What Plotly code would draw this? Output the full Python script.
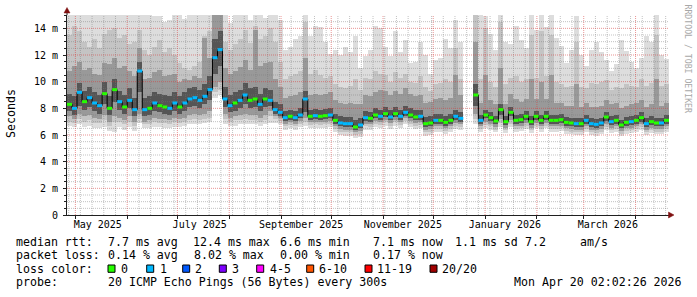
import plotly.graph_objects as go
import pandas as pd

# ---------------- data ----------------
START = pd.Timestamp("2025-04-26")
END = START + pd.Timedelta(days=360)
BIN_DAYS = 3
N_BINS = 120

# median rtt per 3-day bin (ms)
med = [8.3, 8.0, 9.2, 8.5, 8.8, 8.4, 8.2, 9.1, 8.0, 9.4,
       8.5, 8.1, 8.6, 7.9, 10.8, 7.9, 8.0, 8.4, 8.2, 8.1,
       8.0, 8.4, 8.1, 8.4, 8.7, 8.8, 8.6, 8.9, 9.4, 11.8,
       12.4, 8.7, 8.2, 8.4, 8.6, 9.0, 8.6, 8.7, 8.3, 8.7,
       8.6, 7.9, 7.7, 7.3, 7.4, 7.3, 7.5, 8.7, 7.4, 7.45,
       7.4, 7.45, 7.5, 7.1, 6.9, 6.85, 6.85, 6.6, 6.75, 7.3,
       7.25, 7.5, 7.4, 7.6, 7.35, 7.6, 7.4, 7.7, 7.5, 7.35,
       7.4, 6.85, 6.9, 7.1, 7.1, 6.95, 7.1, 7.4, 7.25, None,
       None, 9.0, 7.1, 7.5, 7.3, 7.05, 7.9, 7.0, 7.7, 7.1,
       7.15, 7.4, 7.0, 7.4, 7.1, 7.4, 7.1, 7.1, 7.15, 6.95,
       6.9, 6.85, 6.85, 7.1, 6.85, 6.8, 6.9, 7.35, 7.0, 7.1,
       6.75, 6.95, 7.0, 7.1, 7.3, 6.85, 7.0, 6.9, 6.9, 7.1]

# lost pings per bin (0 or 1 of 20)
loss = [0, 1, 1, 0, 1, 1, 1, 0, 0, 0,
        1, 0, 1, 1, 1, 1, 0, 1, 0, 0,
        1, 1, 0, 1, 1, 1, 1, 1, 1, 1,
        1, 1, 1, 0, 1, 1, 0, 0, 1, 0,
        1, 1, 1, 1, 0, 1, 1, 1, 0, 1,
        0, 0, 1, 0, 1, 1, 1, 0, 1, 1,
        0, 0, 1, 0, 1, 0, 1, 1, 0, 0,
        1, 0, 0, 1, 0, 0, 0, 1, 1, 0,
        0, 0, 1, 0, 0, 0, 0, 0, 0, 0,
        0, 0, 0, 0, 0, 0, 0, 0, 0, 0,
        0, 1, 0, 1, 1, 1, 1, 0, 1, 0,
        0, 0, 1, 0, 0, 1, 0, 0, 1, 0]

# smoke: sorted-ping levels per bin (ms), outermost to innermost
p_max = [15, 15, 15, 15, 15, 15, 15, 15, 15, 15,
         15, 15, 15, 15, 15, 15, 15, 14.9, 14.9, 14.5,
         14.6, 15, 15, 14.7, 15, 15, 15, 15, 15, 15,
         15, 15, 14.4, 15, 15, 15, 14.6, 15, 15, 14.8,
         15, 15, 14.6, 12.4, 12.6, 13.2, 13.4, 15, 13.4, 14.2,
         14.1, 13.0, 12.1, 12.4, 12.0, 12.6, 12.2, 13.4, 11.0, 11.9,
         12.4, 14.2, 14.0, 12.6, 11.9, 13.8, 12.2, 13.1, 11.4, 11.5,
         13.0, 12.0, 10.6, 11.6, 11.8, 13.2, 12.5, 14.6, 13.0, None,
         None, 15, 15, 14.9, 13.6, 12.4, 15, 13.0, 12.8, 14.2,
         13.1, 12.5, 15, 13.9, 15, 14.1, 15, 13.3, 12.7, 11.4,
         12.4, 14.9, 12.0, 11.2, 12.4, 13.0, 12.2, 11.6, 10.8, 11.3,
         13.1, 12.3, 11.5, 11.0, 11.8, 13.4, 13.0, 15, 12.0, 11.7]

p_h2 = [13.5, 14.2, 13.8, 13.0, 12.6, 13.2, 12.5, 13.6, 13.9, 14.0,
        13.3, 13.5, 12.8, 13.0, 13.9, 12.4, 12.0, 12.6, 13.1, 12.2,
        12.5, 12.0, 11.4, 11.0, 10.9, 11.2, 11.5, 13.4, 13.8, 15,
        15, 13.0, 12.4, 12.8, 13.2, 13.9, 12.9, 14.2, 13.2, 13.4,
        14.0, 13.0, 11.5, 10.2, 10.4, 10.6, 10.8, 14.5, 10.6, 10.9,
        10.5, 10.3, 10.4, 9.8, 9.6, 9.5, 9.7, 10.2, 9.4, 10.3,
        10.2, 10.8, 10.6, 10.5, 10.0, 10.7, 10.3, 10.6, 10.0, 9.9,
        10.4, 9.6, 9.3, 9.8, 9.9, 10.2, 10.0, 12.5, 10.2, None,
        None, 15, 10.2, 14.0, 10.0, 9.6, 14.5, 9.8, 10.3, 10.4,
        10.0, 10.2, 13.5, 10.3, 13.8, 10.4, 13.5, 10.0, 9.8, 9.6,
        9.7, 13.0, 9.6, 9.5, 9.9, 9.8, 10.0, 10.1, 9.4, 9.6,
        9.5, 9.8, 9.7, 9.6, 10.2, 9.7, 9.9, 13.5, 9.7, 9.8]

p_h3 = [10.8, 11.2, 11.5, 10.9, 11.0, 10.6, 10.5, 11.4, 11.3, 11.8,
        11.0, 11.2, 10.8, 10.4, 12.5, 10.2, 10.3, 10.7, 10.9, 10.4,
        10.5, 10.6, 10.0, 10.2, 10.1, 10.4, 10.3, 13.3, 11.8, 15,
        15, 11.0, 10.6, 10.8, 11.1, 11.6, 10.9, 13.9, 11.2, 11.4,
        11.5, 10.2, 9.6, 8.8, 8.9, 9.0, 9.2, 11.8, 9.0, 9.1,
        9.0, 9.1, 9.2, 8.6, 8.4, 8.3, 8.4, 8.3, 8.3, 9.0,
        8.9, 9.2, 9.4, 9.3, 9.0, 9.3, 9.1, 9.5, 9.1, 8.9,
        9.0, 8.4, 8.5, 8.7, 8.8, 8.6, 8.8, 10.5, 9.0, None,
        None, 13.0, 8.4, 10.5, 8.6, 8.3, 11.0, 8.3, 9.1, 8.7,
        8.5, 8.7, 10.2, 8.7, 10.0, 8.7, 10.5, 8.4, 8.4, 8.2,
        8.2, 9.8, 8.1, 8.4, 8.1, 8.1, 8.2, 8.6, 8.3, 8.4,
        8.0, 8.2, 8.3, 8.4, 8.6, 8.1, 8.3, 10.2, 8.2, 8.4]

p_h4 = [9.1, 8.9, 9.9, 9.3, 9.6, 9.2, 9.0, 10.0, 8.9, 10.2,
        9.3, 9.0, 9.5, 8.8, 11.5, 8.8, 8.9, 9.2, 9.1, 9.0,
        8.9, 9.2, 8.9, 9.2, 9.5, 9.6, 9.4, 9.8, 10.4, 13.2,
        13.8, 9.6, 9.0, 9.2, 9.4, 9.9, 9.5, 9.6, 9.1, 9.5,
        9.4, 8.5, 8.3, 7.8, 7.9, 7.8, 8.0, 9.3, 7.9, 7.95,
        7.9, 7.95, 8.0, 7.6, 7.4, 7.35, 7.35, 7.1, 7.25, 7.8,
        7.75, 8.0, 7.9, 8.1, 7.85, 8.1, 7.9, 8.2, 8.0, 7.85,
        7.9, 7.35, 7.4, 7.6, 7.6, 7.45, 7.6, 7.9, 7.75, None,
        None, 9.8, 7.5, 7.9, 7.7, 7.45, 8.3, 7.4, 8.1, 7.5,
        7.55, 7.8, 7.4, 7.8, 7.5, 7.8, 7.5, 7.5, 7.55, 7.35,
        7.3, 7.25, 7.25, 7.5, 7.25, 7.2, 7.3, 7.75, 7.4, 7.5,
        7.15, 7.35, 7.4, 7.5, 7.7, 7.25, 7.4, 7.3, 7.3, 7.5]

p_l4 = [7.8, 7.5, 8.2, 7.9, 8.1, 7.8, 7.6, 8.3, 7.5, 8.5,
        7.9, 7.6, 8.0, 7.4, 9.2, 7.4, 7.5, 7.8, 7.7, 7.6,
        7.5, 7.8, 7.6, 7.8, 8.1, 8.2, 8.0, 8.3, 8.6, 10.6,
        11.2, 8.1, 7.7, 7.8, 8.0, 8.3, 8.0, 8.1, 7.8, 8.1,
        8.2, 7.6, 7.45, 7.05, 7.15, 7.05, 7.25, 7.7, 7.15, 7.2,
        7.15, 7.2, 7.25, 6.85, 6.65, 6.6, 6.6, 6.4, 6.5, 7.05,
        7.0, 7.25, 7.15, 7.35, 7.1, 7.35, 7.15, 7.45, 7.25, 7.1,
        7.15, 6.6, 6.65, 6.85, 6.85, 6.7, 6.85, 7.1, 7.0, None,
        None, 8.2, 6.85, 7.25, 7.05, 6.8, 7.5, 6.75, 7.4, 6.85,
        6.9, 7.15, 6.75, 7.15, 6.85, 7.15, 6.85, 6.85, 6.9, 6.7,
        6.65, 6.6, 6.6, 6.85, 6.6, 6.55, 6.65, 7.05, 6.75, 6.85,
        6.5, 6.7, 6.75, 6.85, 7.0, 6.6, 6.75, 6.65, 6.65, 6.85]

p_l3 = [7.4, 7.2, 7.6, 7.4, 7.5, 7.3, 7.2, 7.5, 7.0, 7.4,
        7.3, 7.1, 7.4, 7.0, 7.6, 7.0, 7.1, 7.3, 7.2, 7.2,
        7.1, 7.3, 7.2, 7.3, 7.5, 7.6, 7.5, 7.6, 7.8, 9.6,
        10.0, 7.6, 7.3, 7.4, 7.5, 7.6, 7.5, 7.5, 7.3, 7.5,
        7.8, 7.4, 7.25, 6.85, 6.95, 6.85, 7.05, 7.3, 6.95, 7.0,
        6.95, 7.0, 7.05, 6.65, 6.45, 6.4, 6.4, 6.2, 6.3, 6.85,
        6.8, 7.05, 6.95, 7.15, 6.9, 7.15, 6.95, 7.25, 7.05, 6.9,
        6.95, 6.4, 6.45, 6.65, 6.65, 6.5, 6.65, 6.9, 6.8, None,
        None, 7.6, 6.65, 7.0, 6.85, 6.6, 7.2, 6.55, 7.1, 6.65,
        6.7, 6.9, 6.55, 6.9, 6.65, 6.9, 6.65, 6.65, 6.7, 6.5,
        6.45, 6.4, 6.4, 6.65, 6.4, 6.35, 6.45, 6.8, 6.55, 6.65,
        6.3, 6.5, 6.55, 6.65, 6.8, 6.4, 6.55, 6.45, 6.45, 6.65]

p_l2 = [7.0, 6.9, 7.2, 7.0, 7.1, 6.9, 6.9, 7.1, 6.7, 7.0,
        7.0, 6.8, 7.0, 6.7, 7.2, 6.8, 6.8, 7.0, 6.9, 6.9,
        6.8, 7.0, 6.9, 7.0, 7.1, 7.2, 7.1, 7.2, 7.3, 9.2,
        9.4, 7.2, 7.0, 7.1, 7.1, 7.2, 7.1, 7.1, 7.0, 7.1,
        7.4, 7.2, 7.05, 6.65, 6.75, 6.65, 6.85, 7.0, 6.75, 6.8,
        6.75, 6.8, 6.85, 6.45, 6.25, 6.2, 6.2, 6.0, 6.1, 6.65,
        6.6, 6.85, 6.75, 6.95, 6.7, 6.95, 6.75, 7.05, 6.85, 6.7,
        6.75, 6.2, 6.25, 6.45, 6.45, 6.3, 6.45, 6.7, 6.6, None,
        None, 7.2, 6.45, 6.75, 6.65, 6.4, 6.9, 6.35, 6.85, 6.45,
        6.5, 6.7, 6.35, 6.7, 6.45, 6.7, 6.45, 6.45, 6.5, 6.3,
        6.25, 6.2, 6.2, 6.45, 6.2, 6.15, 6.25, 6.6, 6.35, 6.45,
        6.1, 6.3, 6.35, 6.45, 6.6, 6.2, 6.35, 6.25, 6.25, 6.45]

p_min = [6.7, 6.6, 6.8, 6.6, 6.7, 6.5, 6.5, 6.6, 6.3, 6.2,
         6.6, 6.4, 6.6, 6.3, 6.9, 6.5, 6.5, 6.6, 6.6, 6.5,
         6.5, 6.6, 6.6, 6.7, 6.8, 6.8, 6.8, 6.9, 7.0, 8.8,
         9.0, 6.8, 6.7, 6.7, 6.8, 6.8, 6.8, 6.8, 6.7, 6.8,
         6.9, 6.9, 6.8, 6.4, 6.5, 6.4, 6.6, 6.7, 6.5, 6.55,
         6.5, 6.55, 6.6, 6.2, 6.0, 5.95, 5.95, 5.8, 5.85, 6.4,
         6.35, 6.6, 6.5, 6.7, 6.45, 6.7, 6.5, 6.8, 6.6, 6.45,
         6.5, 5.95, 6.0, 6.2, 6.2, 6.05, 6.2, 6.45, 6.35, None,
         None, 6.8, 6.25, 6.5, 6.4, 6.2, 6.6, 6.15, 6.6, 6.25,
         6.3, 6.45, 6.15, 6.5, 6.25, 6.5, 6.25, 6.25, 6.3, 6.1,
         6.05, 6.0, 6.0, 6.25, 6.0, 5.95, 6.05, 6.35, 6.15, 6.25,
         5.9, 6.1, 6.15, 6.25, 6.4, 6.0, 6.15, 6.05, 6.05, 6.25]

# axis ticks / labels
x_label_pos = ["2025-05-14 10:00", "2025-07-14 08:40", "2025-09-13 01:30",
               "2025-11-12 19:00", "2026-01-12 21:30", "2026-03-15 10:00"]
x_label_text = ["May 2025", "July 2025", "September 2025",
                "November 2025", "January 2026", "March 2026"]
y_tick_vals = [0, 2, 4, 6, 8, 10, 12, 14]
y_tick_text = ["0", "2 m", "4 m", "6 m", "8 m", "10 m", "12 m", "14 m"]

loss_names = ["0", "1", "2", "3", "4-5", "6-10", "11-19", "20/20"]
loss_colors = ["#26ff00", "#00b8ff", "#0059ff", "#7e00ff",
               "#ff00ff", "#ff5500", "#ff0000", "#a10000"]

legend_rows = [
    ["median rtt:", "7.7 ms avg", "12.4 ms max", "6.6 ms min",
     "7.1 ms now", "1.1 ms sd", "7.2", "am/s"],
    ["packet loss:", "0.14 % avg", "8.02 % max", "0.00 % min", "0.17 % now"],
    ["probe:", "20 ICMP Echo Pings (56 Bytes) every 300s",
     "Mon Apr 20 02:02:26 2026"],
]

# ---------------- layout constants (pixels) ----------------
W, H = 697, 297
PL, PR, PT, PB = 67, 669, 15, 215
FONT = "DejaVu Sans Mono"
LEG_SIZE = 11.6

legend_x = [[16, 107.3, 192.7, 279.3, 372.3, 455, 525, 579.3],
            [16, 107.3, 194, 279.3, 372.3],
            [16, 107.3, 513.3]]
legend_y = [241.7, 255.2, 282.2]
lossrow_y = 268.7
box_x = [108, 146.7, 182.7, 219.3, 256.7, 306.7, 365, 430]
boxlab_x = [120.7, 159.3, 195, 231.7, 269.3, 319, 376.7, 441.7]


def fx(X):
    return (X - PL) / (PR - PL)


def fy(Y):
    return (PB - Y) / (PB - PT)


# ---------------- figure ----------------
t_start = [START + pd.Timedelta(days=BIN_DAYS * i) for i in range(N_BINS)]
t_mid = [START + pd.Timedelta(days=BIN_DAYS * i + BIN_DAYS / 2) for i in range(N_BINS)]
t_edges = t_start + [END]
bin_ms = BIN_DAYS * 86400000

fig = go.Figure()

bands = [(p_min, p_max, "#dddddd"),
         (p_l2, p_h2, "#c4c4c4"),
         (p_l3, p_h3, "#999999"),
         (p_l4, p_h4, "#555555")]
for lo, hi, col in bands:
    base = [a if (a is not None and b is not None) else None for a, b in zip(lo, hi)]
    hgt = [(b - a) if (a is not None and b is not None) else None for a, b in zip(lo, hi)]
    fig.add_trace(go.Bar(x=t_mid, y=hgt, base=base, width=bin_ms,
                         marker=dict(color=col, line=dict(width=0)),
                         hoverinfo="skip"))

# grid (drawn above the smoke, like rrdtool)
month_starts = pd.date_range("2025-05-01", "2026-04-01", freq="MS")
week_lines = [d for d in pd.date_range("2025-04-27", "2026-04-19", freq="W-SUN")
              if d.day != 1]
minor_y = [v / 2 for v in range(1, 30) if v % 4 != 0]
major_y = [v for v in range(2, 15, 2)]


def vlines(xs):
    X, Y = [], []
    for d in xs:
        X += [d, d, None]
        Y += [0, 15, None]
    return X, Y


def hlines(ys):
    X, Y = [], []
    for v in ys:
        X += [START, END, None]
        Y += [v, v, None]
    return X, Y


grid_minor = "rgba(120,120,120,0.45)"
grid_major = "rgba(215,60,60,0.55)"
for xs, ys, col in [(*vlines(week_lines), grid_minor),
                    (*hlines(minor_y), grid_minor),
                    (*vlines(month_starts), grid_major),
                    (*hlines(major_y), grid_major)]:
    fig.add_trace(go.Scatter(x=xs, y=ys, mode="lines",
                             line=dict(color=col, width=1, dash="1px,1px"),
                             hoverinfo="skip"))

# median line
fig.add_trace(go.Scatter(x=t_edges, y=med + [med[-1]], mode="lines",
                         line=dict(color="#000000", width=1, shape="hv"),
                         hoverinfo="skip"))
for cls in sorted(set(loss)):
    X, Y = [], []
    for i in range(N_BINS):
        if med[i] is not None and loss[i] == cls:
            X += [t_edges[i], t_edges[i + 1], None]
            Y += [med[i], med[i], None]
    fig.add_trace(go.Scatter(x=X, y=Y, mode="lines",
                             line=dict(color=loss_colors[cls], width=3),
                             hoverinfo="skip"))

fig.update_layout(
    width=W, height=H,
    margin=dict(l=PL, r=W - PR, t=PT, b=H - PB),
    paper_bgcolor="white", plot_bgcolor="white",
    showlegend=False, barmode="overlay", bargap=0,
    font=dict(family=FONT, size=10, color="black"),
)
fig.update_xaxes(
    type="date", range=[START, END],
    tickmode="array", tickvals=x_label_pos, ticktext=x_label_text,
    ticks="", showgrid=False, zeroline=False,
    showline=True, linecolor="#202020", linewidth=1,
    tickfont=dict(family=FONT, size=10, color="black"),
    minor=dict(tickmode="array", tickvals=list(month_starts), ticks="outside",
               ticklen=3, tickcolor="#202020", showgrid=False),
)
fig.update_yaxes(
    range=[0, 15], tickmode="array", tickvals=y_tick_vals, ticktext=y_tick_text,
    ticks="outside", ticklen=3, tickcolor="#202020",
    showgrid=False, zeroline=False,
    showline=True, linecolor="#202020", linewidth=1,
    tickfont=dict(family=FONT, size=10, color="black"),
    ticklabelstandoff=3,
    minor=dict(dtick=0.5, ticks="outside", ticklen=2, tickcolor="#202020",
               showgrid=False),
)

ann = []


def text_at(txt, X, Y, size=LEG_SIZE, color="black", angle=0, xanchor="left"):
    ann.append(dict(text=txt, x=fx(X), y=fy(Y), xref="paper", yref="paper",
                    xanchor=xanchor, yanchor="middle", showarrow=False,
                    textangle=angle, borderpad=0,
                    font=dict(family=FONT, size=size, color=color)))


for row, xs, Y in zip(legend_rows, legend_x, legend_y):
    for txt, X in zip(row, xs):
        text_at(txt, X - 0.8, Y)
text_at("loss color:", 16 - 0.8, lossrow_y)
for name, X in zip(loss_names, boxlab_x):
    text_at(name, X - 0.8, lossrow_y)

text_at("Seconds", 11, 114, size=11.6, angle=-90, xanchor="center")
text_at("RRDTOOL / TOBI OETIKER", 687.5, 59, size=8.2, color="#a8a8a8",
        angle=90, xanchor="center")

shapes = []
for X, col in zip(box_x, loss_colors):
    shapes.append(dict(type="rect", xref="paper", yref="paper",
                       x0=fx(X), x1=fx(X + 7), y0=fy(272.3), y1=fy(265),
                       fillcolor=col, line=dict(color="black", width=1)))
# axis extensions and arrows
arrow_col = "#7f1010"
shapes.append(dict(type="line", xref="paper", yref="paper",
                   x0=fx(PL), x1=fx(PL), y0=fy(PT), y1=fy(11),
                   line=dict(color="#202020", width=1)))
shapes.append(dict(type="line", xref="paper", yref="paper",
                   x0=fx(PR), x1=fx(671), y0=fy(PB), y1=fy(PB),
                   line=dict(color="#202020", width=1)))
shapes.append(dict(type="path", xref="paper", yref="paper",
                   path="M {} {} L {} {} L {} {} Z".format(
                       fx(64), fy(13), fx(70), fy(13), fx(67), fy(7.5)),
                   fillcolor=arrow_col, line=dict(color=arrow_col, width=0.5)))
shapes.append(dict(type="path", xref="paper", yref="paper",
                   path="M {} {} L {} {} L {} {} Z".format(
                       fx(668.5), fy(212), fx(668.5), fy(218), fx(674), fy(215)),
                   fillcolor=arrow_col, line=dict(color=arrow_col, width=0.5)))

fig.update_layout(annotations=ann, shapes=shapes)
fig.write_html("out.html")
